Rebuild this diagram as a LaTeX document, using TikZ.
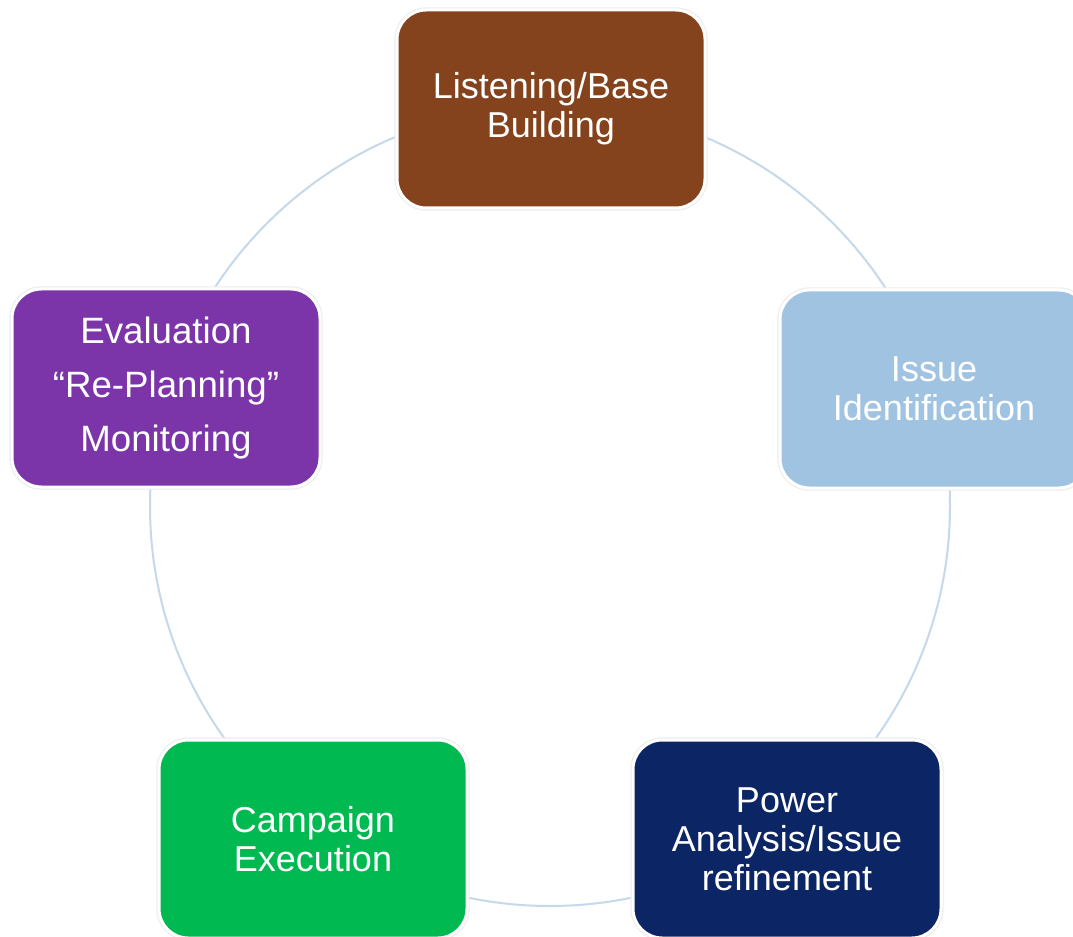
\documentclass[tikz,border=0pt]{standalone}
\usepackage{fontspec}
\setmainfont{Liberation Sans}
\definecolor{cbrown}{HTML}{84431C}
\definecolor{clblue}{HTML}{A0C3E1}
\definecolor{cnavy}{HTML}{0B2565}
\definecolor{cgreen}{HTML}{00B950}
\definecolor{cpurple}{HTML}{7B35A8}
\definecolor{cring}{HTML}{C5D9EB}
\begin{document}
\begin{tikzpicture}[x=0.75pt,y=-0.75pt,
  box/.style={rounded corners=22pt, minimum width=231pt, minimum height=148.5pt,
    draw=white, line width=2.25pt, text=white, align=center, inner sep=0pt,
    preaction={draw=black!7, line width=4pt},
    font=\fontsize{27}{29.25}\selectfont},
  widebox/.style={box, font=\fontsize{27.5}{40.5}\selectfont},
  ring/.style={draw=cring, line width=1.5pt}]
\useasboundingbox (0,0) rectangle (1073,937);
\clip (0,0) rectangle (1073,937);
\fill[white] (0,0) rectangle (1073,937);
\coordinate (ctr) at (550,506);
\draw[ring] (ctr) circle [radius=300pt];
\node[box, fill=cbrown] (listen) at (551,109) {Listening/Base\\Building};
\node[box, fill=clblue] (issue) at (934,389) {Issue\\Identification};
\node[box, fill=cnavy] (power) at (787,839) {Power\\Analysis/Issue\\refinement};
\node[box, fill=cgreen] (camp) at (313,839) {Campaign\\Execution};
\node[widebox, fill=cpurple] (eval) at (166,388) {Evaluation\\``Re-Planning''\\Monitoring};
\end{tikzpicture}
\end{document}
